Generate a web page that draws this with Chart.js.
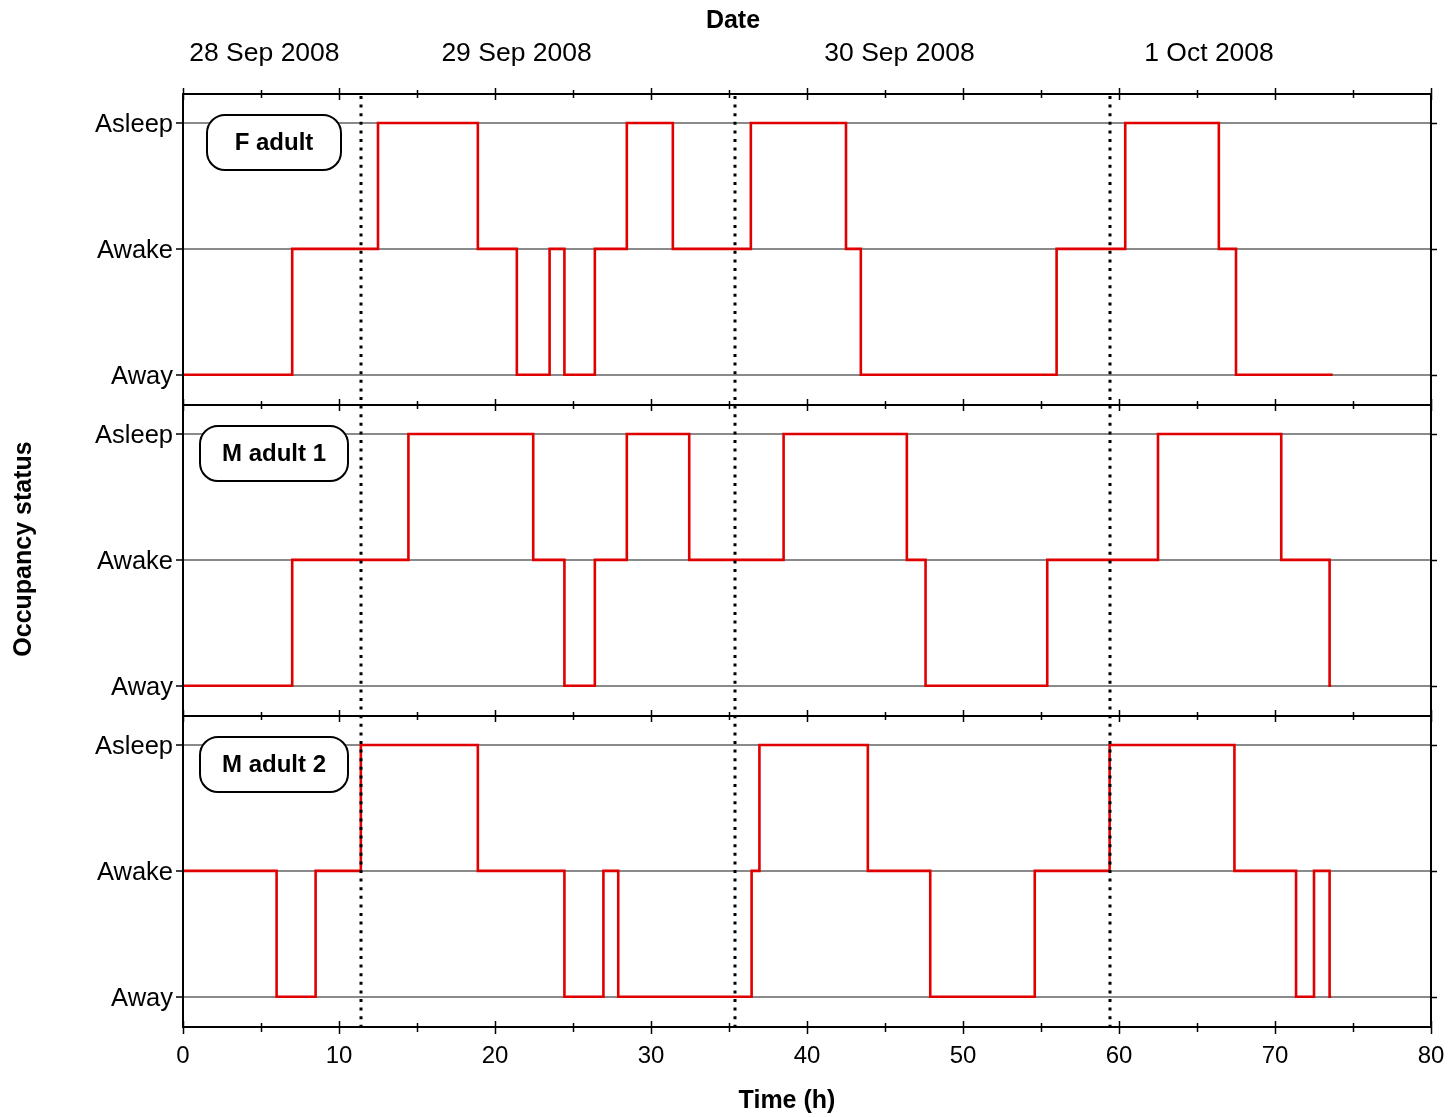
<!DOCTYPE html>
<html lang="en">
<head>
<meta charset="UTF-8">
<title>Occupancy status</title>
<script src="https://cdn.jsdelivr.net/npm/chart.js@4"></script>
<style>
html, body { margin: 0; padding: 0; background: #fff; }
#wrap { width: 1452px; height: 1117px; }
</style>
</head>
<body>
<div id="wrap"><canvas id="occ" width="1452" height="1117"></canvas></div>
<script>
// occupancy states, bottom to top
const STATES = ['Away', 'Awake', 'Asleep'];

// each series: time of change (h) and the state held from then on
const fTimes   = [0, 7.0, 12.5, 18.9, 21.4, 23.5, 24.45, 26.4, 28.45, 31.4, 36.4, 42.5, 43.45, 56.0, 60.4, 66.4, 67.5, 73.7];
const fStates  = [0, 1,   2,    1,    0,    1,    0,     1,    2,     1,    2,    1,    0,     1,    2,    1,    0,    0];

const m1Times  = [0, 7.0, 14.45, 22.45, 24.45, 26.4, 28.45, 32.45, 38.5, 46.4, 47.6, 55.4, 62.5, 70.4, 73.5, 73.6];
const m1States = [0, 1,   2,     1,     0,     1,    2,     1,     2,    1,    0,    1,    2,    1,    0,    0];

const m2Times  = [0, 6.0, 8.5, 11.4, 18.9, 24.45, 26.95, 27.9, 36.45, 36.95, 43.9, 47.9, 54.6, 59.4, 67.4, 71.35, 72.5, 73.5, 73.6];
const m2States = [1, 0,   1,   2,    1,    0,     1,     0,    1,     2,     1,    0,    1,    2,    1,    0,     1,    0,    0];

const panelNames = ['F adult', 'M adult 1', 'M adult 2'];

// midnights, time axis ticks
const midnights = [11.4, 35.4, 59.4];
const timeTicks = [0, 5, 10, 15, 20, 25, 30, 35, 40, 45, 50, 55, 60, 65, 70, 75, 80];

// date labels along the top
const dateLabels     = ['28 Sep 2008', '29 Sep 2008', '30 Sep 2008', '1 Oct 2008'];
const dateLabelHours = [5.22, 21.38, 45.93, 65.77];

const FONT = "'Liberation Sans', Arial, Helvetica, sans-serif";

const panels = [
  { axis: 'p1', name: panelNames[0], times: fTimes,  states: fStates,  boxW: 134 },
  { axis: 'p2', name: panelNames[1], times: m1Times, states: m1States, boxW: 148 },
  { axis: 'p3', name: panelNames[2], times: m2Times, states: m2States, boxW: 148 }
];

function stepData(times, states) {
  return times.map((t, i) => ({ x: t, y: states[i] }));
}

function stateAxis() {
  return {
    type: 'linear', position: 'left', stack: 'panels', stackWeight: 1,
    min: -0.24, max: 2.23,
    afterBuildTicks: s => { s.ticks = STATES.map((_, i) => ({ value: i })); },
    afterFit: s => { s.width = 183; s.paddingTop = 0; s.paddingBottom = 0; },
    ticks: { callback: v => STATES[v], color: '#000', font: { family: FONT, size: 25.5 }, padding: 3, labelOffset: 2 },
    grid: { color: '#8a8a8a', lineWidth: 2, tickColor: '#000', tickLength: 7, tickWidth: 1.5 },
    border: { display: false }
  };
}

function line(ctx, x1, y1, x2, y2) {
  ctx.beginPath(); ctx.moveTo(x1, y1); ctx.lineTo(x2, y2); ctx.stroke();
}

function roundBox(ctx, x, y, w, h, r) {
  ctx.beginPath();
  ctx.moveTo(x + r, y);
  ctx.arcTo(x + w, y, x + w, y + h, r);
  ctx.arcTo(x + w, y + h, x, y + h, r);
  ctx.arcTo(x, y + h, x, y, r);
  ctx.arcTo(x, y, x + w, y, r);
  ctx.closePath();
}

// frame, separators, tick marks, midnight lines and panel captions
const panelDecor = {
  id: 'panelDecor',
  afterDatasetsDraw(chart) {
    const { ctx, chartArea: a, scales } = chart;
    const x = scales.x;
    ctx.save();
    ctx.strokeStyle = '#000';

    // dotted midnight lines
    ctx.lineWidth = 3;
    ctx.setLineDash([3, 5.6]);
    midnights.forEach(h => {
      const px = Math.round(x.getPixelForValue(h));
      line(ctx, px, a.top + 2, px, a.bottom + 6);
    });
    ctx.setLineDash([]);

    // outer frame and panel separators
    ctx.lineWidth = 2;
    ctx.strokeRect(a.left, a.top, a.width, a.height);
    panels.slice(1).forEach(p => line(ctx, a.left, scales[p.axis].top, a.right, scales[p.axis].top));

    // time ticks crossing every panel edge
    ctx.lineWidth = 1.5;
    const edges = [a.top].concat(panels.slice(1).map(p => scales[p.axis].top), [a.bottom]);
    timeTicks.forEach(h => {
      const px = Math.round(x.getPixelForValue(h)) + 0.5;
      const len = h % 10 === 0 ? 6 : 4;
      edges.forEach(ey => {
        const outLen = ey === a.bottom ? len + 1 : len;
        line(ctx, px, ey - (ey === a.bottom ? len : outLen), px, ey + (ey === a.bottom ? outLen : len));
      });
    });

    // state ticks on the right edge
    panels.forEach(p => {
      const s = scales[p.axis];
      STATES.forEach((_, i) => {
        const py = Math.round(s.getPixelForValue(i)) + 0.5;
        line(ctx, a.right, py, a.right + 6, py);
      });
    });

    // panel captions
    panels.forEach(p => {
      const s = scales[p.axis];
      const cx = 274, top = s.top + 21, h = 55;
      roundBox(ctx, cx - p.boxW / 2, top, p.boxW, h, 18);
      ctx.fillStyle = '#fff';
      ctx.fill();
      ctx.lineWidth = 2;
      ctx.stroke();
      ctx.fillStyle = '#000';
      ctx.font = 'bold 24px ' + FONT;
      ctx.textAlign = 'center';
      ctx.textBaseline = 'middle';
      ctx.fillText(p.name, cx, top + h / 2 + 1);
    });

    // axis titles
    ctx.font = 'bold 25px ' + FONT;
    ctx.textAlign = 'center';
    ctx.textBaseline = 'middle';
    ctx.fillText('Date', 733, 21);
    ctx.fillText('Time (h)', 787, 1101);
    ctx.translate(24, 549);
    ctx.rotate(-Math.PI / 2);
    ctx.fillText('Occupancy status', 0, 0);
    ctx.restore();
  }
};

new Chart(document.getElementById('occ'), {
  type: 'line',
  data: {
    datasets: panels.map(p => ({
      label: p.name,
      data: stepData(p.times, p.states),
      xAxisID: 'x',
      yAxisID: p.axis,
      stepped: true,
      borderColor: '#e00000',
      borderWidth: 2.6,
      pointRadius: 0,
      fill: false
    }))
  },
  options: {
    responsive: false,
    devicePixelRatio: 1,
    animation: false,
    events: [],
    layout: { padding: { left: 0, top: 0, right: 21, bottom: 0 } },
    plugins: { legend: { display: false }, tooltip: { enabled: false } },
    scales: {
      x: {
        type: 'linear', position: 'bottom', min: 0, max: 80,
        afterFit: s => { s.height = 90; s.paddingLeft = 0; s.paddingRight = 0; },
        ticks: { stepSize: 10, color: '#000', font: { family: FONT, size: 24 }, padding: 15, maxRotation: 0 },
        grid: { display: false, drawTicks: false },
        border: { display: false }
      },
      top: {
        type: 'linear', position: 'top', min: 0, max: 80,
        afterBuildTicks: s => { s.ticks = dateLabelHours.map(v => ({ value: v })); },
        afterFit: s => { s.height = 94; s.paddingLeft = 0; s.paddingRight = 0; },
        ticks: { callback: (v, i) => dateLabels[i], autoSkip: false, maxRotation: 0, color: '#000', font: { family: FONT, size: 26.5 }, padding: 24 },
        grid: { display: false, drawTicks: false },
        border: { display: false }
      },
      p3: stateAxis(),
      p2: stateAxis(),
      p1: stateAxis()
    }
  },
  plugins: [panelDecor]
});
</script>
</body>
</html>
